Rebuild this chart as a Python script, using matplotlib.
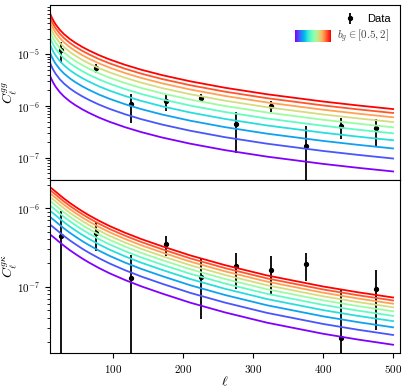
import numpy as np
import matplotlib
matplotlib.use("Agg")
import matplotlib.pyplot as plt

plt.rcParams['font.family'] = 'serif'
plt.rcParams['font.serif'] = ['cmr10', 'DejaVu Serif']
plt.rcParams['mathtext.fontset'] = 'cm'
plt.rcParams['axes.formatter.use_mathtext'] = True
plt.rcParams['axes.unicode_minus'] = False

# data points (bandpowers)
ell_data = [25, 75, 125, 175, 225, 275, 325, 375, 425, 475]
cl_gg = [1.19e-5, 5.45e-6, 1.08e-6, 1.25e-6, 1.44e-6, 4.45e-7, 1.0e-6, 1.7e-7, 4.1e-7, 3.72e-7]
err_gg = [5.1e-6, 1.1e-6, 6.2e-7, 4.4e-7, 2.5e-7, 3.2e-7, 2.5e-7, 2.4e-7, 1.8e-7, 2.0e-7]
cl_gk = [4.42e-7, 4.78e-7, 1.29e-7, 3.47e-7, 1.32e-7, 1.84e-7, 1.63e-7, 1.94e-7, 2.24e-8, 9.5e-8]
err_gk = [4.8e-7, 1.9e-7, 1.25e-7, 1.0e-7, 9.3e-8, 8.9e-8, 8.2e-8, 7.7e-8, 7.2e-8, 6.7e-8]

# model curves for b_g = 1
ell_model = [10, 12, 15, 18, 24, 30, 38, 46, 56, 66, 80, 95, 117, 140, 170, 210, 260, 320, 400, 450, 500]
model_gg = [1.531e-5, 1.318e-5, 1.096e-5, 9.40e-6, 7.36e-6, 6.08e-6, 4.94e-6, 4.16e-6, 3.45e-6,
            2.93e-6, 2.39e-6, 1.98e-6, 1.56e-6, 1.256e-6, 9.86e-7, 7.50e-7, 5.62e-7, 4.21e-7,
            3.05e-7, 2.56e-7, 2.18e-7]
model_gk = [9.27e-7, 8.98e-7, 8.55e-7, 8.13e-7, 7.33e-7, 6.64e-7, 5.87e-7, 5.24e-7, 4.58e-7,
            4.05e-7, 3.46e-7, 2.97e-7, 2.44e-7, 2.03e-7, 1.64e-7, 1.256e-7, 9.42e-8, 6.97e-8,
            5.04e-8, 4.25e-8, 3.65e-8]
b_g = np.linspace(0.5, 2, 10)

colors = plt.cm.rainbow(np.linspace(0, 1, len(b_g)))
ell_m = np.array(ell_model)

fig = plt.figure(figsize=(4.07, 3.91), dpi=100)
ax1 = fig.add_axes([0.123, 0.540, 0.860, 0.447])
ax2 = fig.add_axes([0.123, 0.0964, 0.860, 0.4436], sharex=ax1)

# top panel
ax1.errorbar(ell_data, cl_gg, yerr=err_gg, fmt='o', color='k', ms=2.8, elinewidth=1.3, label='Data', zorder=1)
for b, c in zip(b_g, colors):
    ax1.plot(ell_m, b**2 * np.array(model_gg), color=c, lw=1.3, zorder=2)
ax1.set_yscale('log')
ax1.set_ylim(3.75e-8, 8.87e-5)
ax1.set_ylabel(r'$C_\ell^{gg}$', fontsize=10)
ax1.tick_params(axis='x', bottom=False, labelbottom=False)

# bottom panel
ax2.errorbar(ell_data, cl_gk, yerr=err_gk, fmt='o', color='k', ms=2.8, elinewidth=1.3, zorder=1)
for b, c in zip(b_g, colors):
    ax2.plot(ell_m, b * np.array(model_gk), color=c, lw=1.3, zorder=2)
ax2.set_yscale('log')
ax2.set_ylim(1.42e-8, 2.30e-6)
ax2.set_xlim(10, 510)
ax2.set_xticks([100, 200, 300, 400, 500])
ax2.set_ylabel(r'$C_\ell^{g\kappa}$', fontsize=10)
ax2.set_xlabel(r'$\ell$', fontsize=10, labelpad=0)

for ax in (ax1, ax2):
    ax.tick_params(labelsize=8)
    ax.yaxis.set_label_coords(-0.09, 0.5)

# legend: data + colour bar for b_g
leg = ax1.legend(loc='upper right', frameon=False, handlelength=2.0,
                 borderaxespad=0.4, handletextpad=0.6,
                 prop={'family': 'Liberation Sans', 'size': 8})
cax = ax1.inset_axes([0.70, 0.788, 0.10, 0.069])
cax.imshow(np.linspace(0, 1, 100)[None, :], cmap='rainbow', aspect='auto')
cax.set_axis_off()
ax1.text(0.82, 0.822, r'$b_g\in[0.5,2]$', transform=ax1.transAxes, fontsize=8,
         va='center', ha='left', color='#444444')

fig.savefig('out.png', dpi=100)
